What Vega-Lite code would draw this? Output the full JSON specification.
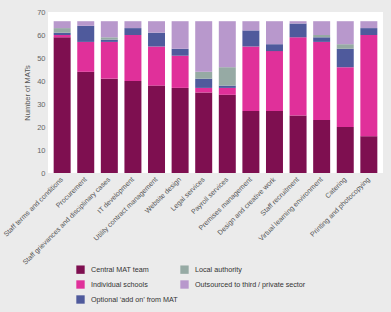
{
  "$schema": "https://vega.github.io/schema/vega-lite/v6.json",
  "width": 335,
  "height": 161,
  "autosize": {"type": "none"},
  "padding": {"left": 48, "top": 12, "right": 8, "bottom": 139},
  "background": "#ebebeb",
  "config": {
    "view": {"fill": "#ffffff", "stroke": null},
    "font": "Liberation Sans"
  },
  "data": {
    "values": [
      {"service": "Staff terms and conditions", "source": "Central MAT team", "count": 59},
      {"service": "Staff terms and conditions", "source": "Individual schools", "count": 1},
      {"service": "Staff terms and conditions", "source": "Optional ‘add on’ from MAT", "count": 1},
      {"service": "Staff terms and conditions", "source": "Local authority", "count": 2},
      {"service": "Staff terms and conditions", "source": "Outsourced to third / private sector", "count": 3},

      {"service": "Procurement", "source": "Central MAT team", "count": 44},
      {"service": "Procurement", "source": "Individual schools", "count": 13},
      {"service": "Procurement", "source": "Optional ‘add on’ from MAT", "count": 7},
      {"service": "Procurement", "source": "Local authority", "count": 0},
      {"service": "Procurement", "source": "Outsourced to third / private sector", "count": 2},

      {"service": "Staff grievances and disciplinary cases", "source": "Central MAT team", "count": 41},
      {"service": "Staff grievances and disciplinary cases", "source": "Individual schools", "count": 16},
      {"service": "Staff grievances and disciplinary cases", "source": "Optional ‘add on’ from MAT", "count": 1},
      {"service": "Staff grievances and disciplinary cases", "source": "Local authority", "count": 1},
      {"service": "Staff grievances and disciplinary cases", "source": "Outsourced to third / private sector", "count": 7},

      {"service": "IT development", "source": "Central MAT team", "count": 40},
      {"service": "IT development", "source": "Individual schools", "count": 20},
      {"service": "IT development", "source": "Optional ‘add on’ from MAT", "count": 3},
      {"service": "IT development", "source": "Local authority", "count": 0},
      {"service": "IT development", "source": "Outsourced to third / private sector", "count": 3},

      {"service": "Utility contract management", "source": "Central MAT team", "count": 38},
      {"service": "Utility contract management", "source": "Individual schools", "count": 17},
      {"service": "Utility contract management", "source": "Optional ‘add on’ from MAT", "count": 6},
      {"service": "Utility contract management", "source": "Local authority", "count": 0},
      {"service": "Utility contract management", "source": "Outsourced to third / private sector", "count": 5},

      {"service": "Website design", "source": "Central MAT team", "count": 37},
      {"service": "Website design", "source": "Individual schools", "count": 14},
      {"service": "Website design", "source": "Optional ‘add on’ from MAT", "count": 3},
      {"service": "Website design", "source": "Local authority", "count": 0},
      {"service": "Website design", "source": "Outsourced to third / private sector", "count": 12},

      {"service": "Legal services", "source": "Central MAT team", "count": 35},
      {"service": "Legal services", "source": "Individual schools", "count": 2},
      {"service": "Legal services", "source": "Optional ‘add on’ from MAT", "count": 4},
      {"service": "Legal services", "source": "Local authority", "count": 3},
      {"service": "Legal services", "source": "Outsourced to third / private sector", "count": 22},

      {"service": "Payroll services", "source": "Central MAT team", "count": 34},
      {"service": "Payroll services", "source": "Individual schools", "count": 3},
      {"service": "Payroll services", "source": "Optional ‘add on’ from MAT", "count": 1},
      {"service": "Payroll services", "source": "Local authority", "count": 8},
      {"service": "Payroll services", "source": "Outsourced to third / private sector", "count": 20},

      {"service": "Premises management", "source": "Central MAT team", "count": 27},
      {"service": "Premises management", "source": "Individual schools", "count": 28},
      {"service": "Premises management", "source": "Optional ‘add on’ from MAT", "count": 7},
      {"service": "Premises management", "source": "Local authority", "count": 0},
      {"service": "Premises management", "source": "Outsourced to third / private sector", "count": 4},

      {"service": "Design and creative work", "source": "Central MAT team", "count": 27},
      {"service": "Design and creative work", "source": "Individual schools", "count": 26},
      {"service": "Design and creative work", "source": "Optional ‘add on’ from MAT", "count": 3},
      {"service": "Design and creative work", "source": "Local authority", "count": 0},
      {"service": "Design and creative work", "source": "Outsourced to third / private sector", "count": 10},

      {"service": "Staff recruitment", "source": "Central MAT team", "count": 25},
      {"service": "Staff recruitment", "source": "Individual schools", "count": 34},
      {"service": "Staff recruitment", "source": "Optional ‘add on’ from MAT", "count": 6},
      {"service": "Staff recruitment", "source": "Local authority", "count": 0},
      {"service": "Staff recruitment", "source": "Outsourced to third / private sector", "count": 1},

      {"service": "Virtual learning environment", "source": "Central MAT team", "count": 23},
      {"service": "Virtual learning environment", "source": "Individual schools", "count": 34},
      {"service": "Virtual learning environment", "source": "Optional ‘add on’ from MAT", "count": 2},
      {"service": "Virtual learning environment", "source": "Local authority", "count": 1},
      {"service": "Virtual learning environment", "source": "Outsourced to third / private sector", "count": 6},

      {"service": "Catering", "source": "Central MAT team", "count": 20},
      {"service": "Catering", "source": "Individual schools", "count": 26},
      {"service": "Catering", "source": "Optional ‘add on’ from MAT", "count": 8},
      {"service": "Catering", "source": "Local authority", "count": 2},
      {"service": "Catering", "source": "Outsourced to third / private sector", "count": 10},

      {"service": "Printing and photocopying", "source": "Central MAT team", "count": 16},
      {"service": "Printing and photocopying", "source": "Individual schools", "count": 44},
      {"service": "Printing and photocopying", "source": "Optional ‘add on’ from MAT", "count": 3},
      {"service": "Printing and photocopying", "source": "Local authority", "count": 0},
      {"service": "Printing and photocopying", "source": "Outsourced to third / private sector", "count": 3}
    ]
  },
  "transform": [
    {
      "calculate": "indexof(['Central MAT team', 'Individual schools', 'Optional ‘add on’ from MAT', 'Local authority', 'Outsourced to third / private sector'], datum.source)",
      "as": "stack_rank"
    }
  ],
  "mark": {"type": "bar"},
  "encoding": {
    "x": {
      "field": "service",
      "type": "nominal",
      "sort": null,
      "scale": {"paddingInner": 0.28, "paddingOuter": 0.24},
      "axis": {
        "title": null,
        "domain": false,
        "ticks": false,
        "labelAngle": -45,
        "labelAlign": "right",
        "labelBaseline": "middle",
        "labelPadding": 5,
        "labelFontSize": 7,
        "labelColor": "#555555",
        "labelLimit": 200
      }
    },
    "y": {
      "field": "count",
      "type": "quantitative",
      "stack": "zero",
      "scale": {"domain": [0, 70], "nice": false},
      "axis": {
        "title": "Number of MATs",
        "values": [0, 10, 20, 30, 40, 50, 60, 70],
        "grid": false,
        "domain": false,
        "ticks": false,
        "labelPadding": 3,
        "labelFontSize": 7.5,
        "labelColor": "#666666",
        "titleFontSize": 7.5,
        "titleFontWeight": "normal",
        "titleColor": "#555555",
        "titlePadding": 5
      }
    },
    "color": {
      "field": "source",
      "type": "nominal",
      "scale": {
        "domain": ["Central MAT team", "Individual schools", "Optional ‘add on’ from MAT", "Local authority", "Outsourced to third / private sector"],
        "range": ["#7e0f50", "#e0309a", "#4f5a9c", "#96aaa4", "#b898cc"]
      },
      "legend": {
        "title": null,
        "orient": "none",
        "legendX": 28,
        "legendY": 253,
        "columns": 2,
        "columnPadding": 2,
        "rowPadding": 6,
        "symbolType": "square",
        "symbolSize": 70,
        "symbolStrokeWidth": 0,
        "labelFontSize": 7.2,
        "labelColor": "#333333",
        "labelOffset": 6,
        "labelLimit": 200
      }
    },
    "order": {"field": "stack_rank", "type": "quantitative"}
  }
}
